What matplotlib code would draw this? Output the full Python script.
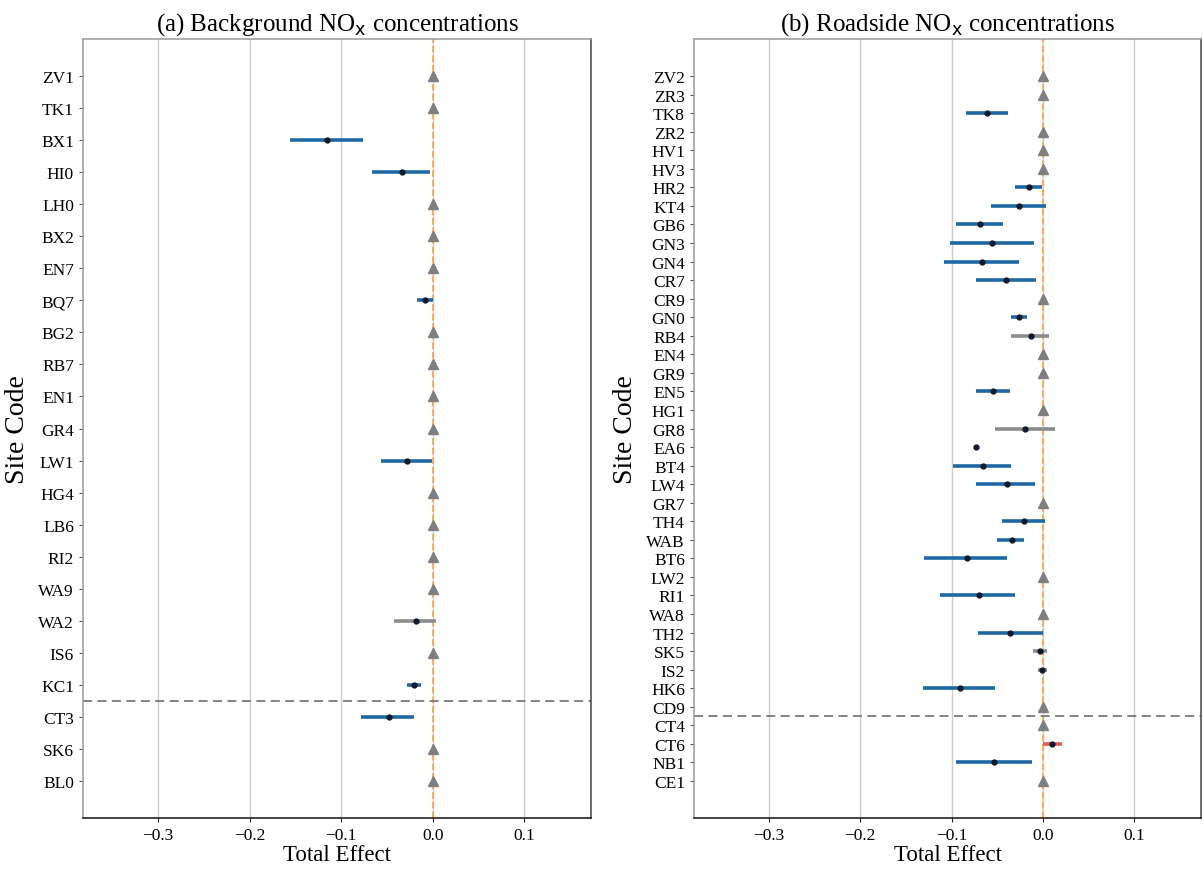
import numpy as np
from matplotlib import pyplot as plt

plt.rcParams['font.family'] = ['Liberation Serif', 'DejaVu Serif']
plt.rcParams['mathtext.fontset'] = 'dejavusans'

# (a) background sites, top to bottom
bg_sites = ['ZV1', 'TK1', 'BX1', 'HI0', 'LH0', 'BX2', 'EN7', 'BQ7', 'BG2', 'RB7', 'EN1', 'GR4',
            'LW1', 'HG4', 'LB6', 'RI2', 'WA9', 'WA2', 'IS6', 'KC1', 'CT3', 'SK6', 'BL0']
bg_est = [0, 0, -0.115, -0.034, 0, 0, 0, -0.0084, 0, 0, 0, 0,
          -0.028, 0, 0, 0, 0, -0.018, 0, -0.0204, -0.0477, 0, 0]
bg_lo = [0, 0, -0.156, -0.0665, 0, 0, 0, -0.0175, 0, 0, 0, 0,
         -0.056, 0, 0, 0, 0, -0.042, 0, -0.0277, -0.078, 0, 0]
bg_hi = [0, 0, -0.076, -0.0033, 0, 0, 0, 0.0, 0, 0, 0, 0,
         -0.0004, 0, 0, 0, 0, 0.004, 0, -0.0131, -0.020, 0, 0]
# b = blue (negative), g = grey (crosses zero), r = red (positive), z = no effect
bg_cls = ['z', 'z', 'b', 'b', 'z', 'z', 'z', 'b', 'z', 'z', 'z', 'z',
          'b', 'z', 'z', 'z', 'z', 'g', 'z', 'b', 'b', 'z', 'z']
bg_split = 19.5

# (b) roadside sites, top to bottom
rs_sites = ['ZV2', 'ZR3', 'TK8', 'ZR2', 'HV1', 'HV3', 'HR2', 'KT4', 'GB6', 'GN3', 'GN4', 'CR7',
            'CR9', 'GN0', 'RB4', 'EN4', 'GR9', 'EN5', 'HG1', 'GR8', 'EA6', 'BT4', 'LW4', 'GR7',
            'TH4', 'WAB', 'BT6', 'LW2', 'RI1', 'WA8', 'TH2', 'SK5', 'IS2', 'HK6', 'CD9', 'CT4',
            'CT6', 'NB1', 'CE1']
rs_est = [0, 0, -0.061, 0, 0, 0, -0.0157, -0.0266, -0.0684, -0.0556, -0.0662, -0.040,
          0, -0.0258, -0.0135, 0, 0, -0.0545, 0, -0.0193, -0.073, -0.0651, -0.0389, 0,
          -0.0211, -0.0342, -0.0833, 0, -0.0698, 0, -0.0357, -0.0037, -0.0008, -0.0905, 0, 0,
          0.0101, -0.0531, 0]
rs_lo = [0, 0, -0.0847, 0, 0, 0, -0.031, -0.0564, -0.0956, -0.102, -0.1087, -0.0738,
         0, -0.0345, -0.0345, 0, 0, -0.0738, 0, -0.0527, -0.0745, -0.0989, -0.0738, 0,
         -0.0451, -0.0498, -0.1298, 0, -0.1128, 0, -0.0716, -0.0109, -0.0059, -0.1309, 0, 0,
         0.0, -0.0953, 0]
rs_hi = [0, 0, -0.0382, 0, 0, 0, -0.001, 0.0036, -0.0433, -0.0102, -0.0258, -0.0073,
         0, -0.0179, 0.0062, 0, 0, -0.0357, 0, 0.0127, -0.0715, -0.0345, -0.0091, 0,
         0.0018, -0.0204, -0.0396, 0, -0.0302, 0, 0.0, 0.0044, 0.0040, -0.052, 0, 0,
         0.021, -0.012, 0]
rs_cls = ['z', 'z', 'b', 'z', 'z', 'z', 'b', 'b', 'b', 'b', 'b', 'b',
          'z', 'b', 'g', 'z', 'z', 'b', 'z', 'g', 'b', 'b', 'b', 'z',
          'b', 'b', 'b', 'z', 'b', 'z', 'b', 'g', 'g', 'b', 'z', 'z',
          'r', 'b', 'z']
rs_split = 34.5

line_col = {'b': '#1f68a3', 'g': '#8c8c8c', 'r': '#e85a5a'}


def forest(ax, sites, est, lo, hi, cls, split, title):
    n = len(sites)
    pos = np.arange(n)
    for i in range(n):
        if cls[i] == 'z':
            ax.plot(est[i], pos[i], marker='^', ms=7, color='#7f7f7f', ls='none', zorder=4)
        else:
            ax.plot([lo[i], hi[i]], [pos[i], pos[i]], color=line_col[cls[i]], lw=2.6,
                    solid_capstyle='butt', zorder=3)
            ax.plot(est[i], pos[i], marker='o', ms=3.5, color='#0f1a2b', ls='none', zorder=5)
    ax.axvline(0, color='#ffa64d', ls='--', lw=1.3, zorder=2)
    ax.axhline(split, color='#7a7a7a', ls=(0, (5, 3)), lw=1.3, zorder=2)
    ax.set_yticks(pos)
    ax.set_yticklabels(sites, fontsize=12.5)
    # keep ~37 px of empty space above the first and below the last row
    step = 704.0 / (n - 1)
    m = 37.0 / step
    ax.set_ylim(n - 1 + m, -m)
    ax.set_xlim(-0.382, 0.173)
    ax.set_xticks([-0.3, -0.2, -0.1, 0.0, 0.1])
    ax.tick_params(axis='x', labelsize=12.5, length=3, color='#222222')
    ax.tick_params(axis='y', length=3, color='#555555')
    ax.xaxis.grid(True, color='#cccccc', lw=1.0, zorder=0)
    ax.set_axisbelow(True)
    ax.spines['left'].set_color('#999999')
    ax.spines['top'].set_color('#999999')
    ax.spines['right'].set_color('#444444')
    ax.spines['bottom'].set_color('#111111')
    for s in ax.spines.values():
        s.set_linewidth(1.1)
    ax.set_xlabel('Total Effect', fontsize=16.5, labelpad=1)
    ax.set_ylabel('Site Code', fontsize=20, labelpad=6)
    ax.set_title(title, fontsize=18, pad=7)


fig = plt.figure(figsize=(12.03, 8.7), dpi=100)
ax1 = fig.add_axes([83 / 1203, 1 - 819 / 870, (591 - 83) / 1203, (819 - 40) / 870])
ax2 = fig.add_axes([694 / 1203, 1 - 819 / 870, (1201 - 694) / 1203, (819 - 40) / 870])

forest(ax1, bg_sites, bg_est, bg_lo, bg_hi, bg_cls, bg_split,
       r'(a) Background NO$_\mathrm{x}$ concentrations')
forest(ax2, rs_sites, rs_est, rs_lo, rs_hi, rs_cls, rs_split,
       r'(b) Roadside NO$_\mathrm{x}$ concentrations')

fig.savefig('out.png', dpi=100)
